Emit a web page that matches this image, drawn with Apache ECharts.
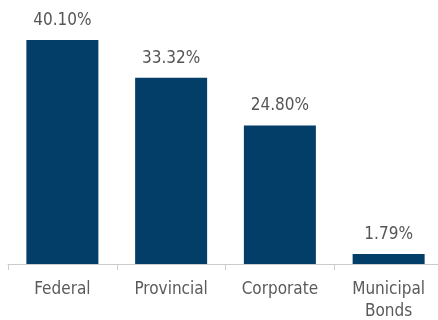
<!DOCTYPE html>
<html><head><meta charset="utf-8">
<script src="https://cdn.jsdelivr.net/npm/echarts@6/dist/echarts.min.js"></script>
<style>html,body{margin:0;padding:0;background:#fff}#c{width:438px;height:320px}</style>
</head><body><div id="c"></div>
<script>
const categories = ["Federal", "Provincial", "Corporate", "Municipal\nBonds"];
const values = [40.10, 33.32, 24.80, 1.79];
const chart = echarts.init(document.getElementById('c'), null, {renderer: 'canvas'});
chart.setOption({
  animation: false,
  grid: {left: 8, top: 40, width: 435, bottom: 56, containLabel: false, outerBoundsMode: 'none'},
  xAxis: {
    type: 'category', data: categories,
    axisLine: {lineStyle: {color: '#cccccc', width: 1}},
    axisTick: {show: true, length: 6, lineStyle: {color: '#cccccc'}},
    axisLabel: {color: '#5a5a5a', fontSize: 17, fontFamily: 'DejaVu Sans Condensed', margin: 15, lineHeight: 22}
  },
  yAxis: {type: 'value', min: 0, max: 'dataMax', show: false, splitLine: {show: false}},
  series: [{
    type: 'bar', data: values, barWidth: 72,
    itemStyle: {color: '#023e68'},
    label: {show: true, position: 'top', distance: 11, color: '#555555', fontSize: 17, fontFamily: 'DejaVu Sans Condensed',
      formatter: p => p.value.toFixed(2) + '%'}
  }]
});
</script></body></html>
